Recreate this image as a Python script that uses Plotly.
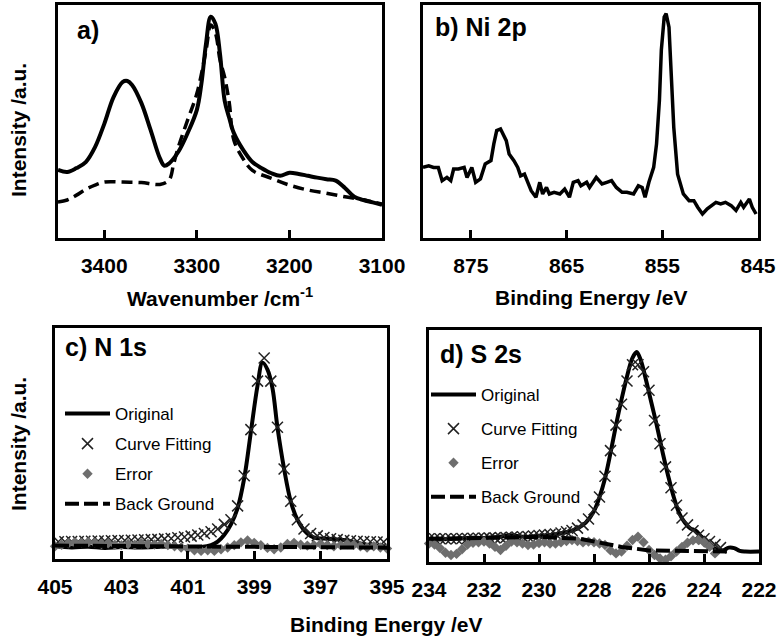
import plotly.graph_objects as go

FONT = "Liberation Sans"

# a) IR spectra
a_wn = [3450, 3440, 3430, 3420, 3410, 3400, 3390, 3380, 3375, 3370,
        3360, 3350, 3340, 3335, 3330, 3320, 3310, 3300, 3295, 3290,
        3285, 3280, 3275, 3270, 3265, 3260, 3250, 3240, 3230, 3220,
        3210, 3200, 3190, 3180, 3170, 3160, 3150, 3140, 3130, 3120,
        3110, 3100]
a_int = [29.2, 28.3, 30.0, 32.6, 39.0, 49.0, 60.5, 67.0, 67.4, 65.7,
         58.0, 46.4, 34.3, 31.0, 32.0, 37.0, 45.0, 55.0, 66.5, 83.7,
         95.0, 92.0, 79.0, 59.0, 51.5, 45.0, 37.8, 32.6, 30.0, 27.9,
         26.7, 28.0, 27.5, 26.7, 25.9, 25.2, 24.6, 21.5, 17.7, 16.3,
         15.3, 14.2]
a_wn_ref = [3450, 3440, 3430, 3420, 3410, 3400, 3380, 3360, 3340, 3330,
            3325, 3320, 3310, 3300, 3290, 3285, 3280, 3275, 3270, 3265,
            3260, 3250, 3240, 3220, 3200, 3180, 3160, 3140, 3120, 3100]
a_int_ref = [15.5, 16.3, 18.4, 20.9, 22.7, 24.0, 24.0, 23.8, 23.0, 24.9,
             32.0, 39.0, 50.6, 62.0, 80.7, 91.4, 88.0, 76.4, 69.0, 58.0,
             42.0, 34.0, 29.0, 25.7, 22.7, 20.6, 19.2, 17.7, 16.3, 14.6]

# b) Ni 2p
b_be = [880.0, 879.4, 878.9, 878.4, 878.0, 877.5, 877.1, 876.8, 876.3, 875.7,
        875.4, 874.9, 874.5, 874.0, 873.5, 872.9, 872.6, 872.3, 871.9, 871.3,
        871.0, 870.5, 870.1, 869.8, 869.4, 869.1, 868.7, 868.2, 867.8, 867.5,
        867.1, 866.8, 866.3, 865.7, 865.2, 864.7, 864.3, 863.8, 863.5, 862.9,
        862.6, 861.9, 861.3, 860.8, 860.3, 859.8, 859.2, 858.7, 858.0, 857.5,
        857.1, 856.8, 856.4, 855.9, 855.6, 855.3, 855.1, 854.8, 854.6, 854.3,
        854.1, 853.8, 853.4, 853.1, 852.8, 852.2, 851.7, 851.3, 850.8, 850.3,
        849.8, 849.4, 848.9, 848.4, 847.8, 847.3, 846.8, 846.5, 845.9, 845.6,
        845.2]
b_int = [30.3, 31.0, 30.3, 30.3, 24.6, 26.0, 24.6, 29.6, 29.6, 30.3,
         26.0, 30.3, 23.9, 25.4, 31.8, 33.2, 40.4, 46.1, 46.8, 41.8,
         36.0, 33.2, 30.3, 26.7, 27.4, 23.9, 20.3, 17.5, 23.9, 18.9,
         21.7, 18.9, 19.6, 18.9, 21.0, 17.5, 23.9, 24.6, 22.4, 23.9,
         21.7, 26.0, 23.2, 23.9, 24.6, 21.7, 19.6, 19.6, 18.9, 22.4,
         21.7, 17.5, 23.9, 30.3, 40.4, 59.0, 80.6, 94.8, 96.3, 90.5,
         73.3, 47.5, 27.4, 23.2, 18.9, 16.0, 16.0, 13.2, 10.3, 12.5,
         13.9, 15.3, 14.6, 15.3, 13.9, 11.8, 15.3, 13.2, 16.7, 13.2,
         10.3]

# c) N 1s
c_orig_be = [405.0, 404.5, 404.0, 403.5, 403.0, 402.5, 402.0, 401.5, 401.0, 400.6,
             400.3, 400.1, 399.9, 399.7, 399.5, 399.3, 399.1, 398.9, 398.75, 398.6,
             398.45, 398.3, 398.1, 397.9, 397.7, 397.5, 397.3, 397.1, 396.8, 396.5,
             396.2, 395.9, 395.5, 395.0]
c_orig = [5.5, 5.0, 5.3, 4.8, 5.2, 5.0, 5.2, 5.4, 5.0, 5.2,
          6.0, 7.5, 10.5, 15.0, 22.0, 35.0, 55.0, 75.0, 85.0, 82.0,
          74.0, 57.0, 39.0, 25.0, 17.0, 12.5, 10.0, 9.0, 8.8, 8.5,
          8.0, 7.0, 6.0, 5.5]
c_fit_be = [404.9, 404.7, 404.5, 404.3, 404.1, 403.9, 403.7, 403.5, 403.3, 403.1,
            402.9, 402.7, 402.5, 402.3, 402.1, 401.9, 401.7, 401.5, 401.3, 401.1,
            400.9, 400.7, 400.5, 400.3, 400.1, 399.9, 399.7, 399.5, 399.3, 399.1,
            398.9, 398.7, 398.5, 398.3, 398.1, 397.9, 397.7, 397.5, 397.3, 397.1,
            396.9, 396.7, 396.5, 396.3, 396.1, 395.9, 395.7, 395.5, 395.3, 395.1]
c_fit = [7.5, 7.5, 7.6, 7.6, 7.7, 7.7, 7.8, 7.8, 7.9, 8.0,
         8.0, 8.1, 8.2, 8.3, 8.4, 8.5, 8.7, 8.9, 9.2, 9.5,
         9.9, 10.4, 11.0, 11.8, 13.0, 15.0, 17.0, 23.0, 36.0, 56.0,
         77.0, 87.0, 77.0, 57.0, 39.0, 25.0, 17.0, 13.0, 11.0, 10.0,
         9.3, 8.8, 8.4, 8.1, 7.9, 7.7, 7.6, 7.5, 7.4, 7.4]
c_err_be = [405.0, 404.8, 404.6, 404.4, 404.2, 404.0, 403.8, 403.6, 403.4, 403.2,
            403.0, 402.8, 402.6, 402.4, 402.2, 402.0, 401.8, 401.6, 401.4, 401.2,
            401.0, 400.8, 400.6, 400.4, 400.2, 400.0, 399.8, 399.6, 399.4, 399.2,
            399.0, 398.8, 398.6, 398.4, 398.2, 398.0, 397.8, 397.6, 397.4, 397.2,
            397.0, 396.8, 396.6, 396.4, 396.2, 396.0, 395.8, 395.6, 395.4, 395.2,
            395.0]
c_err = [5.5, 6.2, 6.8, 7.2, 7.0, 7.3, 7.0, 6.5, 6.8, 6.2,
         6.0, 6.5, 6.2, 6.8, 6.5, 6.3, 6.5, 6.0, 5.5, 5.0,
         4.5, 3.8, 3.5, 3.8, 3.5, 4.2, 5.0, 6.0, 7.2, 8.0,
         7.0, 6.0, 4.8, 4.2, 5.0, 6.5, 7.0, 6.2, 5.8, 6.0,
         6.5, 6.0, 5.5, 6.0, 6.5, 6.2, 5.5, 5.0, 5.5, 5.0,
         4.5]
c_bg_be = [405, 403, 401, 400, 399, 398, 397, 395]
c_bg = [5.8, 5.6, 5.4, 5.3, 5.2, 5.1, 5.0, 4.9]

# d) S 2s
d_orig_be = [234.0, 233.5, 233.0, 232.5, 232.0, 231.5, 231.0, 230.5, 230.0, 229.5,
             229.0, 228.6, 228.3, 228.0, 227.8, 227.6, 227.4, 227.2, 227.0, 226.8,
             226.6, 226.45, 226.3, 226.1, 225.9, 225.7, 225.5, 225.3, 225.1, 224.9,
             224.7, 224.5, 224.3, 224.1, 223.9, 223.7, 223.5, 223.3, 223.1, 222.9,
             222.7, 222.5, 222.0]
d_orig = [9.5, 9.8, 10.0, 10.5, 10.3, 10.8, 11.5, 10.8, 11.3, 11.8,
          12.8, 14.5, 17.0, 22.0, 28.0, 36.0, 47.0, 59.0, 70.0, 80.0,
          88.0, 90.5, 87.0, 78.0, 68.0, 58.0, 47.0, 37.0, 28.0, 21.0,
          17.0, 14.5, 13.5, 11.0, 8.5, 6.5, 5.2, 5.0, 6.2, 6.0,
          4.8, 4.5, 4.5]
d_fit_be = [234.0, 233.8, 233.6, 233.4, 233.2, 233.0, 232.8, 232.6, 232.4, 232.2,
            232.0, 231.8, 231.6, 231.4, 231.2, 231.0, 230.8, 230.6, 230.4, 230.2,
            230.0, 229.8, 229.6, 229.4, 229.2, 229.0, 228.8, 228.6, 228.4, 228.2,
            228.0, 227.8, 227.6, 227.4, 227.2, 227.0, 226.8, 226.6, 226.4, 226.2,
            226.0, 225.8, 225.6, 225.4, 225.2, 225.0, 224.8, 224.6, 224.4, 224.2,
            224.0, 223.8, 223.6, 223.4]
d_fit = [10.0, 10.0, 10.0, 10.0, 10.0, 10.0, 10.1, 10.1, 10.2, 10.2,
         10.3, 10.3, 10.4, 10.5, 10.6, 10.7, 10.8, 10.9, 11.0, 11.2,
         11.4, 11.6, 11.8, 12.1, 12.5, 13.0, 13.6, 14.6, 16.0, 18.5,
         22.5, 28.0, 37.0, 48.0, 59.0, 68.0, 78.0, 85.0, 85.0, 82.0,
         74.0, 61.0, 51.0, 41.0, 32.0, 24.5, 19.0, 16.0, 13.5, 11.5,
         10.0, 8.8, 7.5, 6.2]
d_err_be = [234.0, 233.8, 233.6, 233.4, 233.2, 233.0, 232.8, 232.6, 232.4, 232.2,
            232.0, 231.8, 231.6, 231.4, 231.2, 231.0, 230.8, 230.6, 230.4, 230.2,
            230.0, 229.8, 229.6, 229.4, 229.2, 229.0, 228.8, 228.6, 228.4, 228.2,
            228.0, 227.8, 227.6, 227.4, 227.2, 227.0, 226.8, 226.6, 226.4, 226.2,
            226.0, 225.8, 225.6, 225.4, 225.2, 225.0, 224.8, 224.6, 224.4, 224.2,
            224.0, 223.8, 223.6]
d_err = [8.0, 7.5, 6.0, 4.0, 3.0, 3.5, 5.5, 7.5, 8.3, 8.5,
         8.8, 8.0, 6.5, 5.2, 7.0, 8.8, 8.5, 8.0, 7.3, 7.5,
         8.2, 8.5, 8.0, 8.0, 8.5, 9.0, 9.5, 9.0, 8.5, 8.8,
         8.5, 8.0, 7.3, 5.0, 3.7, 4.5, 7.0, 9.5, 10.9, 8.5,
         5.2, 3.0, 1.5, 1.0, 2.5, 4.5, 6.5, 8.3, 9.3, 9.5,
         8.5, 6.6, 3.7]
d_bg_be = [234, 232, 230, 228.5, 227.5, 227, 226, 225, 224, 223]
d_bg = [10.0, 10.3, 10.8, 10.0, 7.5, 6.5, 5.0, 4.8, 4.5, 4.5]

W, H = 779, 642


def px_x(a, b):
    return [a / W, b / W]


def px_y(top, bottom):
    return [(H - bottom) / H, (H - top) / H]


def x_axis(dom, rng, vals, anchor, size=21):
    return dict(domain=dom, anchor=anchor, range=rng, tickvals=vals,
                ticks="inside", ticklen=8, tickwidth=3, tickcolor="black",
                showline=True, linewidth=3, linecolor="black", mirror=True,
                showgrid=False, zeroline=False, ticklabelstandoff=7, automargin=False,
                tickfont=dict(family=FONT, size=size, color="black", weight="bold"))


def y_axis(dom, anchor):
    return dict(domain=dom, anchor=anchor, range=[0, 100], showticklabels=False,
                ticks="", showline=True, linewidth=3, linecolor="black", mirror=True,
                showgrid=False, zeroline=False, automargin=False)


fig = go.Figure()

# a
fig.add_trace(go.Scatter(x=a_wn, y=a_int, mode="lines", line=dict(color="black", width=4, shape="spline"),
                         showlegend=False, xaxis="x", yaxis="y"))
fig.add_trace(go.Scatter(x=a_wn_ref, y=a_int_ref, mode="lines",
                         line=dict(color="black", width=3.5, dash="11px,6px", shape="spline"),
                         showlegend=False, xaxis="x", yaxis="y"))
# b
fig.add_trace(go.Scatter(x=b_be, y=b_int, mode="lines", line=dict(color="black", width=3.5),
                         showlegend=False, xaxis="x2", yaxis="y2"))

# c and d share the same four series styles
panels = [
    ("x3", "y3", "legend", c_orig_be, c_orig, c_fit_be, c_fit, c_err_be, c_err, c_bg_be, c_bg),
    ("x4", "y4", "legend2", d_orig_be, d_orig, d_fit_be, d_fit, d_err_be, d_err, d_bg_be, d_bg),
]
for xa, ya, lg, ox, oy, fx, fy, ex, ey, gx, gy in panels:
    fig.add_trace(go.Scatter(x=ox, y=oy, mode="lines", name="Original", legend=lg, legendgroup=lg + "o",
                             line=dict(color="black", width=4, shape="spline"), xaxis=xa, yaxis=ya))
    fig.add_trace(go.Scatter(x=fx, y=fy, mode="markers", name="Curve Fitting", legend=lg, legendgroup=lg + "f",
                             marker=dict(symbol="x-thin", size=11, color="black",
                                         line=dict(width=1.5, color="#222222")),
                             xaxis=xa, yaxis=ya))
    fig.add_trace(go.Scatter(x=ex, y=ey, mode="markers", name="Error", legend=lg, legendgroup=lg + "e",
                             marker=dict(symbol="diamond", size=8, color="#6e6e6e"), cliponaxis=False,
                             xaxis=xa, yaxis=ya))
    fig.add_trace(go.Scatter(x=gx, y=gy, mode="lines", name="Back Ground", legend=lg, legendgroup=lg + "b",
                             line=dict(color="black", width=4, dash="14px,5px"), xaxis=xa, yaxis=ya))

legend_style = dict(xanchor="left", yanchor="top", bgcolor="rgba(0,0,0,0)", itemwidth=45,
                    font=dict(family=FONT, size=17, color="black"))

title_font = dict(family=FONT, size=21, color="black", weight="bold")
label_font = dict(family=FONT, size=25, color="black", weight="bold")

annotations = [
    dict(text="a)", x=75 / W, y=(H - 30) / H, xanchor="left", yanchor="middle", font=label_font),
    dict(text="b) Ni 2p", x=433 / W, y=(H - 27) / H, xanchor="left", yanchor="middle", font=label_font),
    dict(text="c) N 1s", x=63 / W, y=(H - 347) / H, xanchor="left", yanchor="middle", font=label_font),
    dict(text="d) S 2s", x=438 / W, y=(H - 354) / H, xanchor="left", yanchor="middle", font=label_font),
    dict(text="Wavenumber /cm<sup>-1</sup>", x=220 / W, y=(H - 297) / H, font=title_font),
    dict(text="Binding Energy /eV", x=591 / W, y=(H - 297) / H, font=title_font),
    dict(text="Binding Energy /eV", x=386 / W, y=(H - 624) / H, font=title_font),
    dict(text="Intensity /a.u.", x=18 / W, y=(H - 130) / H, textangle=-90, font=title_font),
    dict(text="Intensity /a.u.", x=18 / W, y=(H - 444) / H, textangle=-90, font=title_font),
]
for ann in annotations:
    ann.update(xref="paper", yref="paper", showarrow=False)
    ann.setdefault("xanchor", "center")
    ann.setdefault("yanchor", "middle")

fig.update_layout(
    width=W, height=H,
    margin=dict(l=0, r=0, t=0, b=0, pad=0),
    paper_bgcolor="white", plot_bgcolor="white",
    xaxis=x_axis(px_x(58, 382), [3450, 3100], [3400, 3300, 3200, 3100], "y"),
    yaxis=y_axis(px_y(5, 238), "x"),
    xaxis2=x_axis(px_x(423, 758), [880, 845], [875, 865, 855, 845], "y2"),
    yaxis2=y_axis(px_y(5, 238), "x2"),
    xaxis3=x_axis(px_x(55, 387), [405, 395], [405, 403, 401, 399, 397, 395], "y3"),
    yaxis3=y_axis(px_y(328, 559), "x3"),
    xaxis4=x_axis(px_x(429, 759), [234, 222], [234, 232, 230, 228, 226, 224, 222], "y4"),
    yaxis4=y_axis(px_y(330, 562), "x4"),
    legend=dict(x=60 / W, y=(H - 396) / H, tracegroupgap=5, **legend_style),
    legend2=dict(x=426 / W, y=(H - 377) / H, tracegroupgap=9, **legend_style),
    annotations=annotations,
)

fig.write_html("out.html", config={"displayModeBar": False},
               post_script="document.body.style.margin='0';")
